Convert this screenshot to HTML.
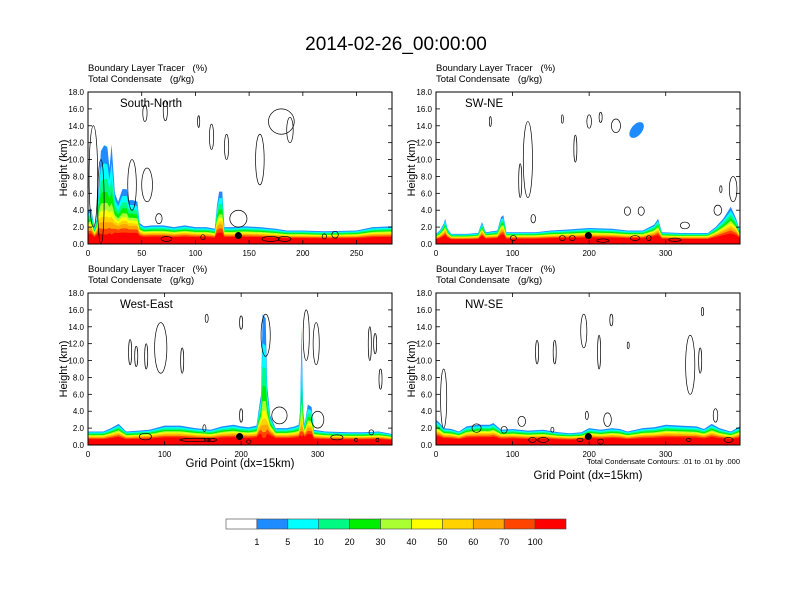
<!DOCTYPE html>
<html><head><meta charset="utf-8">
<style>
html,body{margin:0;padding:0;background:#fff;}
svg{display:block;font-family:"Liberation Sans",Arial,sans-serif;}
text{white-space:pre;}
</style></head>
<body>
<svg id="fig" width="792" height="612" viewBox="0 0 792 612" xmlns="http://www.w3.org/2000/svg">
<text x="396" y="50" font-size="19" text-anchor="middle">2014-02-26_00:00:00</text>
<g id="panels"></g>
<g id="cbar"></g>
<text x="740" y="464" font-size="7.5" text-anchor="end">Total Condensate Contours: .01 to .01 by .000</text>
</svg>
<script>
// ---- data ----
const levelLabels = ["1","5","10","20","30","40","50","60","70","100"];
const levelColors = ["#ffffff","#1e8cff","#00ffff","#00fa82","#00ee00","#aaff32","#ffff00","#ffd200","#ffa500","#ff4500","#ff0000"];
const yTicks = [0,2,4,6,8,10,12,14,16,18];

const tlX = [0,3,6,8,10,12,15,18,20,22,25,28,32,36,38,42,46,48,52,60,70,80,90,100,110,118,120,122,125,127,135,145,160,175,185,200,220,250,265,283];
const tlZ = [4,4.2,2,3,7,11,11.7,11.5,9,11.8,6,5,6.5,6.5,5.2,5.2,5,2.5,2.1,2.2,2.2,2,2.2,2,2,1.8,4.5,6.2,6.2,2,2,2.1,2,1.8,1.6,1.6,1.5,1.6,2,2.1];
const tlContours = [[5,8,4,6],[55,7,5,2],[53,15.5,2,1],[72,15.8,2,1.2],[103,14.5,1,0.7],[115,12.7,2,1.5],[129,11.5,2,1.5],[160,10,4,3],[180,14.5,12,1.5],[188,13.5,3,1.5],[140,3,8,1],[73,0.6,5,0.3],[107,0.8,2,0.3],[170,0.6,8,0.3],[183,0.6,6,0.3],[220,0.9,2,0.3],[230,1.1,3,0.4],[66,3,3,0.6],[41,7,4,3],[12,5,3,5]];

const trX = [0,5,10,12,15,20,40,55,60,65,80,85,88,92,100,130,150,170,200,230,250,270,285,290,295,320,355,365,375,385,392,397];
const trZ = [1.2,1.6,2.4,3,1.8,1.2,1.2,1.3,2.6,1.4,1.6,3.2,3.4,1.4,1.4,1.4,1.6,1.7,1.9,1.8,1.6,1.6,2.3,3,1.4,1.3,1.3,2,3,4.4,3,1.5];
const trContours = [[120,10,6,4.5],[110,7.5,2,2],[71,14.5,1,0.6],[182,11.3,2,1.6],[165,14.8,0.8,0.5],[200,14.5,3,0.8],[215,15,2,0.6],[235,14,6,0.8],[388,6.5,5,1.5],[372,6.5,1.5,0.4],[368,4,5,0.6],[250,3.9,4,0.5],[268,3.9,4,0.5],[325,2.2,6,0.4],[127,3,3,0.5],[101,0.7,4,0.3],[165,0.7,4,0.3],[178,0.7,4,0.3],[218,0.4,8,0.2],[260,0.7,6,0.3],[278,0.7,3,0.3],[312,0.5,8,0.2]];

const blX = [0,20,30,40,50,80,100,120,140,160,175,190,200,210,220,224,226,228,232,234,238,245,260,270,275,277,279,281,283,287,292,295,310,340,360,380,397];
const blZ = [1.6,1.6,2,2.5,1.6,1.8,2.3,2.3,2,1.8,2.2,2.4,2.2,2.1,2.3,4.8,6,15.5,15,7,3.5,2,2,2.2,2.4,4,14,4,2.5,4.8,4.5,1.8,1.6,1.5,1.5,1.6,1.3];
const blContours = [[95,11.5,8,3],[55,11,2,1.5],[63,10.5,2,1.2],[76,10.5,2,1.5],[123,10,2,1.5],[155,15,2,0.5],[200,14.5,2,0.8],[200,3.5,2,0.8],[152,2,2,0.4],[232,13,6,2.5],[250,3.5,10,1],[285,13,4,3],[298,12,4,2.5],[300,3,8,1],[368,12,2,2],[375,12,2,1.2],[382,7.8,2,1.2],[370,1.5,3,0.3],[75,1,8,0.4],[140,0.6,20,0.2],[160,0.6,8,0.2],[210,0.4,3,0.2],[325,0.9,8,0.3],[350,0.6,2,0.2],[378,0.6,2,0.2]];

const brX = [0,5,10,20,30,40,55,70,75,85,100,120,140,160,175,190,200,215,230,240,250,270,285,300,320,340,350,360,370,385,397];
const brZ = [3,2.6,2,1.9,1.6,2.2,2.4,2.4,2.6,1.8,1.9,1.7,1.8,1.5,1.4,1.5,2,1.8,2,1.9,1.6,2,2.1,2.4,2.3,2.2,1.9,2.5,2,1.6,2.2];
const brContours = [[10,5.5,4,3.5],[132,11,2,1.4],[155,11,2,1.4],[193,13.5,4,2],[213,11,2,2],[229,14.8,2,0.7],[251,11.8,1,0.4],[332,9.5,6,3.5],[345,10,2,1.5],[348,15.8,1.5,0.5],[53,2,6,0.5],[89,1.8,4,0.4],[112,2.8,5,0.6],[152,1.8,2,0.3],[197,3.5,2,0.5],[224,3,5,0.8],[365,3.5,3,0.8],[126,0.6,5,0.3],[140,0.6,7,0.3],[188,0.6,4,0.2],[215,0.4,4,0.3],[330,0.6,3,0.2],[382,0.6,6,0.3]];

const panels = [
 {name:"south-north",label:"South-North",x0:88,y0:92,xmax:283,xt:[0,50,100,150,200,250],xs:tlX,zs:tlZ,cs:tlContours,dot:140,blob:null,xlab:0},
 {name:"sw-ne",label:"SW-NE",x0:436,y0:92,xmax:397,xt:[0,100,200,300],xs:trX,zs:trZ,cs:trContours,dot:199,blob:[262,13.5,7,1.1],xlab:0},
 {name:"west-east",label:"West-East",x0:88,y0:293,xmax:397,xt:[0,100,200,300],xs:blX,zs:blZ,cs:blContours,dot:198,blob:null,xlab:174},
 {name:"nw-se",label:"NW-SE",x0:436,y0:293,xmax:397,xt:[0,100,200,300],xs:brX,zs:brZ,cs:brContours,dot:199,blob:null,xlab:186}
];
const fracs = [1,0.95,0.9,0.85,0.8,0.76,0.72,0.68,0.62,0.55];
const W=304,H=152;
const NS="http://www.w3.org/2000/svg";
function mk(tag,attrs,parent){const e=document.createElementNS(NS,tag);for(const k in attrs)e.setAttribute(k,attrs[k]);parent.appendChild(e);return e;}
const root=document.getElementById('panels');
panels.forEach(p=>{
  const g=mk('g',{},root);
  
  
  const sx=v=>p.x0+v/p.xmax*W, sy=z=>p.y0+H-z/18*H;
  let t=mk('text',{x:p.x0,y:p.y0-21,'font-size':9.5},g);t.textContent="Boundary Layer Tracer   (%)";
  
  
  t=mk('text',{x:p.x0,y:p.y0-10,'font-size':9.5},g);t.textContent="Total Condensate   (g/kg)";
  
  
  const cl=mk('clipPath',{id:'c'+p.name},g);mk('rect',{x:p.x0,y:p.y0,width:W,height:H},cl);
  const fg=mk('g',{'clip-path':'url(#c'+p.name+')'},g);
  fracs.forEach((f,i)=>{
    let d='M'+sx(p.xs[0])+','+sy(0);
    p.xs.forEach((x,j)=>{const z=p.zs[j];const top=z*Math.pow(f,1+z/4);d+=' L'+sx(x).toFixed(1)+','+sy(top).toFixed(1);});
    d+=' L'+sx(p.xs[p.xs.length-1])+','+sy(0)+'Z';
    const path=mk('path',{d:d,fill:levelColors[i+1]},fg);
    
    
  });
  if(p.blob){const b=mk('ellipse',{cx:sx(p.blob[0]),cy:sy(p.blob[1]),rx:p.blob[2]/p.xmax*W,ry:p.blob[3]/18*H,fill:levelColors[1],transform:'rotate(40 '+sx(p.blob[0])+' '+sy(p.blob[1])+')'},fg);
    
    }
  p.cs.forEach(c=>{const e=mk('ellipse',{cx:sx(c[0]),cy:sy(c[1]),rx:Math.max(1,c[2]/p.xmax*W),ry:Math.max(1,c[3]/18*H),fill:'none',stroke:'#000','stroke-width':0.7},fg);
    
    });
  const dt=mk('circle',{cx:sx(p.dot),cy:sy(1),r:3.5,fill:'#000'},g);
  
  
  const fr=mk('rect',{x:p.x0,y:p.y0,width:W,height:H,fill:'none',stroke:'#000','stroke-width':1},g);
  
  
  t=mk('text',{x:p.x0+(p.label.length>6?32:29),y:p.y0+15,'font-size':11.5},g);t.textContent=p.label;
  
  
  yTicks.forEach(v=>{
    mk('line',{x1:p.x0,x2:p.x0+4,y1:sy(v),y2:sy(v),stroke:'#000','stroke-width':0.8},g);
    mk('line',{x1:p.x0+W,x2:p.x0+W-4,y1:sy(v),y2:sy(v),stroke:'#000','stroke-width':0.8},g);
    const tt=mk('text',{x:p.x0-4,y:sy(v)+3,'font-size':8,'text-anchor':'end'},g);tt.textContent=v.toFixed(1);
    
    
  });
  p.xt.forEach(v=>{
    mk('line',{x1:sx(v),x2:sx(v),y1:p.y0+H,y2:p.y0+H-4,stroke:'#000','stroke-width':0.8},g);
    mk('line',{x1:sx(v),x2:sx(v),y1:p.y0,y2:p.y0+4,stroke:'#000','stroke-width':0.8},g);
    const tt=mk('text',{x:sx(v),y:p.y0+H+12,'font-size':8,'text-anchor':'middle'},g);tt.textContent=v;
    
    
  });
  t=mk('text',{x:0,y:0,'font-size':11,'text-anchor':'middle',transform:'translate('+(p.x0-21)+','+(p.y0+H/2)+') rotate(-90)'},g);t.textContent="Height (km)";
  
  
  if(p.xlab){t=mk('text',{x:p.x0+W/2,y:p.y0+p.xlab,'font-size':11.5,'text-anchor':'middle'},g);t.textContent="Grid Point (dx=15km)";
    
    }
});
// colorbar
const cb=document.getElementById('cbar');
const bw=340/levelColors.length;
levelColors.forEach((c,i)=>{const r=mk('rect',{x:226+i*bw,y:519,width:bw,height:10,fill:c,stroke:'#444','stroke-width':0.6},cb);
  
  });
levelLabels.forEach((l,i)=>{const tt=mk('text',{x:226+(i+1)*bw,y:545,'font-size':9,'text-anchor':'middle'},cb);tt.textContent=l;
  
  });
</script>
</body></html>
